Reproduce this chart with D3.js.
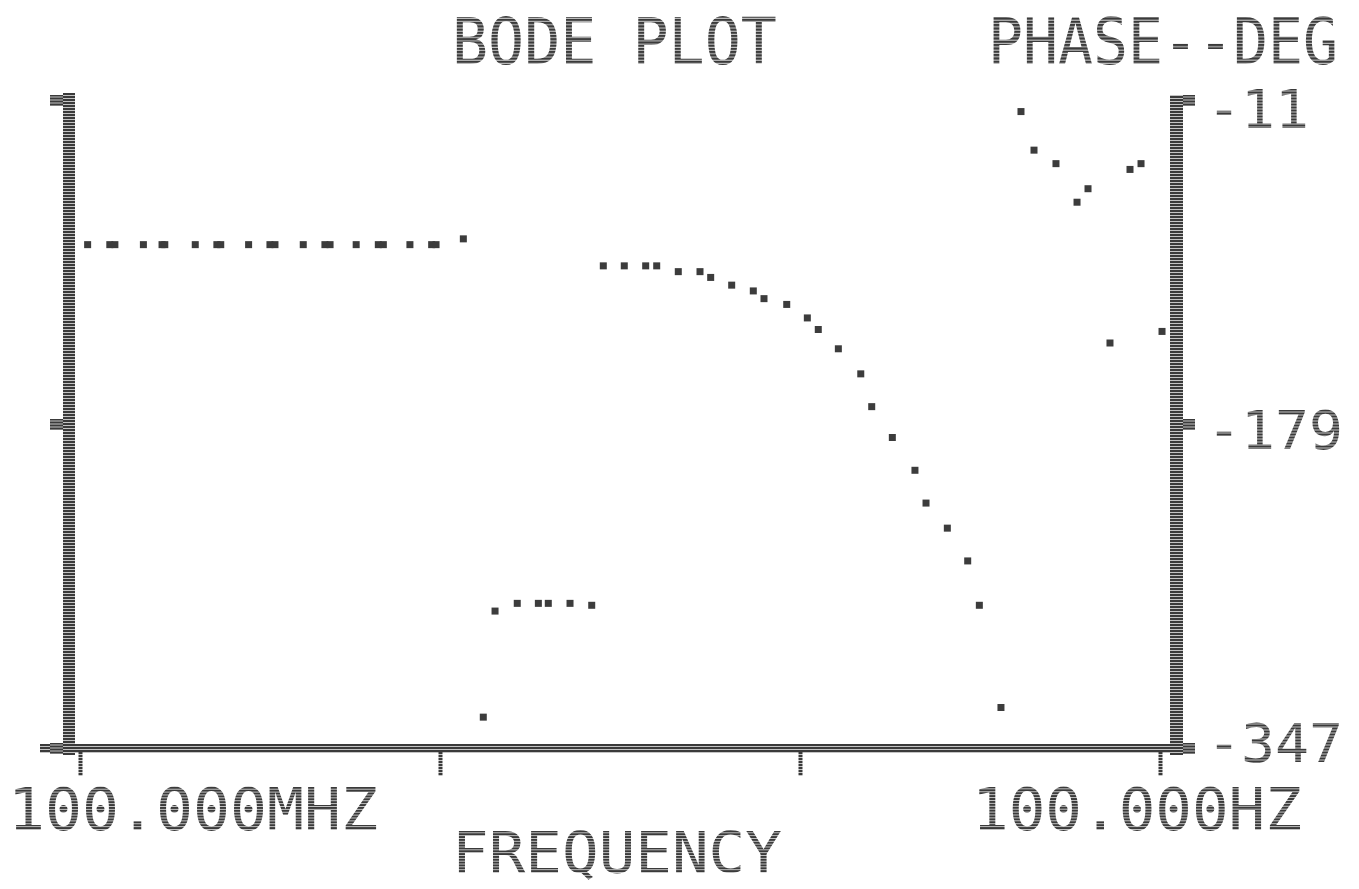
<!DOCTYPE html>
<html>
<head>
<meta charset="utf-8">
<script src="https://cdn.jsdelivr.net/npm/d3@7"></script>
<style>
  html, body { margin: 0; padding: 0; background: #ffffff; }
  svg { display: block; }
</style>
</head>
<body>
<svg id="chart" width="1359" height="889"></svg>
<script>
// ---- data (read from the plotted points) ----
const freqHz = [
  0.105, 0.121, 0.125, 0.150, 0.169, 0.172, 0.209, 0.240, 0.246, 0.294, 0.337, 0.348,
  0.417, 0.479, 0.495, 0.585, 0.674, 0.696, 0.825, 0.948, 0.975, 1.161,
  1.319, 1.422, 1.639, 1.876, 1.999, 2.297, 2.639,
  2.842, 3.250, 3.727, 3.999, 4.591, 5.275, 5.648, 6.460, 7.418, 7.943, 9.186,
  10.48, 11.24, 12.78, 14.75, 15.82, 18.05, 20.86, 22.39, 25.66, 29.23, 31.49, 36.16,
  41.10, 44.67, 51.41, 58.82, 63.10, 72.62, 82.54, 88.57, 101.3
];
const phaseDeg = [
  -86, -86, -86, -86, -86, -86, -86, -86, -86, -86, -86, -86,
  -86, -86, -86, -86, -86, -86, -86, -86, -86, -83,
  -331, -276, -272, -272, -272, -272, -273,
  -97, -97, -97, -97, -100, -100, -103, -107, -110, -114, -117,
  -124, -130, -140, -153, -170, -186, -203, -220, -233, -250, -273, -326,
  -17, -37, -44, -64, -57, -137, -47, -44, -131
];
const xTickValues = [0.1, 1, 10, 100];
const xEndLabels = ["100.000MHZ", "100.000HZ"];
const yTickValues = [-11, -179, -347];
const yTickLabels = ["-11", "-179", "-347"];
const titleText = "BODE PLOT";
const yTitleText = "PHASE--DEG";
const xTitleText = "FREQUENCY";

// ---- scales ----
const x = d3.scaleLog().domain([0.1, 100]).range([80, 1160]);
const y = d3.scaleLinear().domain([-347, -11]).range([748, 100]);

const svg = d3.select("#chart");
const defs = svg.append("defs");
// dot-matrix texture
const pat = defs.append("pattern")
  .attr("id", "dm").attr("patternUnits", "userSpaceOnUse")
  .attr("width", 2).attr("height", 3);
pat.append("rect").attr("width", 2).attr("height", 3).attr("fill", "#c4c4c4");
pat.append("rect").attr("width", 2).attr("height", 2).attr("fill", "#3a3a3a");

const ink = "url(#dm)";
const fontFam = "'DejaVu Sans Mono', 'Liberation Mono', monospace";

// ---- axis bars ----
const leftX = x(0.1) - 17, rightX = x(100) + 10;
svg.append("rect").attr("x", leftX).attr("y", y(-11) - 7)
  .attr("width", 12).attr("height", y(-347) - y(-11) + 14).attr("fill", ink);
svg.append("rect").attr("x", rightX).attr("y", y(-11) - 5)
  .attr("width", 13).attr("height", y(-347) - y(-11) + 12).attr("fill", ink);
svg.append("rect").attr("x", x(0.1) - 40).attr("y", y(-347) - 4)
  .attr("width", rightX + 13 - (x(0.1) - 40)).attr("height", 9).attr("fill", ink);

// ---- axes (ticks) ----
const gx = svg.append("g").attr("transform", `translate(0,${y(-347) + 4})`)
  .call(d3.axisBottom(x).tickValues(xTickValues).tickSize(24).tickFormat(""));
gx.select(".domain").remove();
gx.selectAll(".tick line").attr("stroke", ink).attr("stroke-width", 4);

const gl = svg.append("g").attr("transform", `translate(${leftX},0)`)
  .call(d3.axisLeft(y).tickValues(yTickValues).tickSize(13).tickFormat(""));
gl.select(".domain").remove();
gl.selectAll(".tick line").attr("stroke", ink).attr("stroke-width", 11);

const gr = svg.append("g").attr("transform", `translate(${rightX + 13},0)`)
  .call(d3.axisRight(y).tickValues(yTickValues).tickSize(12)
    .tickFormat((d, i) => yTickLabels[i]).tickPadding(12));
gr.select(".domain").remove();
gr.selectAll(".tick line").attr("stroke", ink).attr("stroke-width", 11);
gr.selectAll(".tick text")
  .attr("fill", ink).attr("font-family", fontFam).attr("font-size", 54)
  .attr("dy", (d, i) => i === 0 ? "0.5em" : (i === 1 ? "0.45em" : "0.25em"))
  .attr("textLength", function() { return this.textContent.length * 34; })
  .attr("lengthAdjust", "spacingAndGlyphs");

// ---- points ----
const pts = freqHz.map((f, i) => ({ f, p: phaseDeg[i] }));
svg.append("g").selectAll("rect").data(pts).join("rect")
  .attr("x", d => x(d.f) - 3.5).attr("y", d => y(d.p) - 3.5)
  .attr("width", 7).attr("height", 7).attr("fill", "#3c3c3c");

// ---- text (condensed horizontally, tall like dot-matrix glyphs) ----
function label(txt, xs, ys, len, capH) {
  const size = len / (txt.length * 0.602);
  const sy = capH / (size * 0.729);
  svg.append("text").attr("transform", `translate(${xs},${ys}) scale(1,${sy})`)
    .text(txt)
    .attr("fill", ink).attr("font-family", fontFam).attr("font-size", size);
}
label(titleText, 452, 64, 325, 47);
label(yTitleText, 988, 64, 350, 47);
label(xTitleText, 452, 873, 330, 42);
label(xEndLabels[0], 8, 830, 370, 43);
label(xEndLabels[1], 972, 830, 330, 43);
</script>
</body>
</html>
